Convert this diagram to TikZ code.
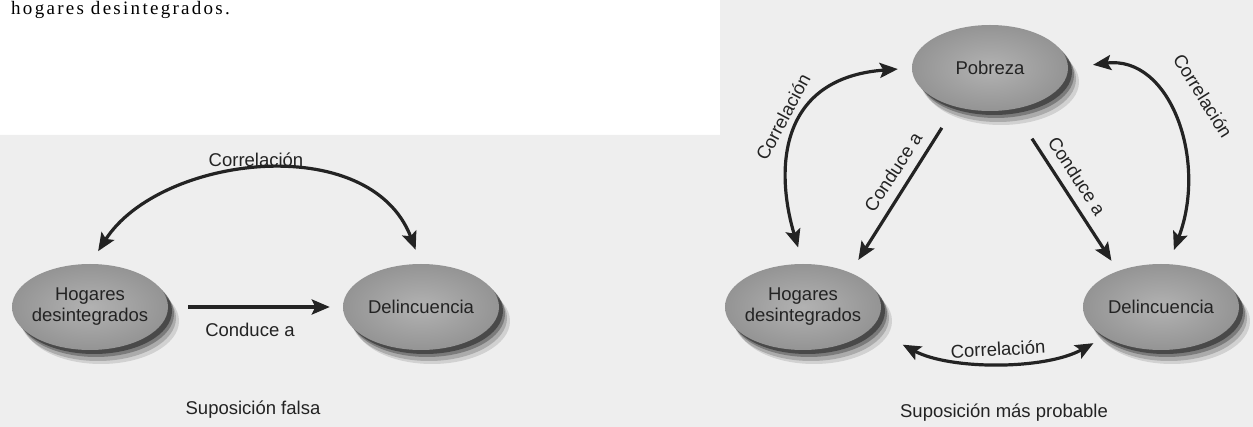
\documentclass[tikz,border=0pt]{standalone}
\usepackage{fontspec}
\setmainfont{Liberation Sans}
\newfontfamily\bodyserif{Liberation Serif}[LetterSpace=12]
\usetikzlibrary{arrows.meta,shapes.geometric,shadows}
\definecolor{ink}{HTML}{232323}
\definecolor{paper}{HTML}{EEEEEE}
\definecolor{discA}{HTML}{B2B2B2}
\definecolor{discB}{HTML}{949494}
\newcommand\zw[1]{\makebox[0pt]{#1}}
\begin{document}
\begin{tikzpicture}[x=1pt,y=-1pt,
  disc/.style={ellipse, minimum width=156pt, minimum height=86pt, inner sep=0pt,
    align=center, inner color=discA, outer color=discB, text=ink,
    font=\fontsize{18.5}{21}\selectfont,
    general shadow={fill=black, opacity=0.12, shadow xshift=11pt, shadow yshift=-14pt},
    general shadow={fill=black, opacity=0.18, shadow xshift=8pt, shadow yshift=-11pt},
    general shadow={fill=black, opacity=0.28, shadow xshift=6pt, shadow yshift=-7pt},
    general shadow={fill=black, opacity=0.40, shadow xshift=4pt, shadow yshift=-4pt}},
  lbl/.style={text=ink, font=\fontsize{18.5}{21}\selectfont, inner sep=0pt},
  link/.style={draw=ink, line width=3.2pt, -{Stealth[length=18pt,width=15pt,inset=3.5pt]}},
  both/.style={draw=ink, line width=3.2pt,
    {Stealth[length=18pt,width=15pt,inset=3.5pt]}-{Stealth[length=18pt,width=15pt,inset=3.5pt]}},
]
\useasboundingbox (0,0) rectangle (1253,427);
% page background under both figures
\fill[paper] (0,135) -- (720,135) -- (720,0) -- (1253,0) -- (1253,427) -- (0,427) -- cycle;

% running text line at the top
\node[anchor=base west, inner sep=0pt, font=\bodyserif\fontsize{19}{22}\selectfont]
  (cap) at (11,15) {hogares desintegrados.};

% ---- left figure: false assumption
\node[disc] (hogL) at (90,307) {\zw{Hogares}\\\zw{desintegrados}};
\node[disc] (delL) at (421,307) {Delincuencia};
\draw[link, shorten <=20pt, shorten >=13pt] (hogL) -- (delL);
\draw[both, shorten <=15pt, shorten >=15pt]
  (hogL.north) .. controls (160,155) and (370,130) .. (delL.north);
\node[lbl] (tCorrL) at (256,160) {Correlación};
\node[lbl] (tCondL) at (250,330) {Conduce a};
\node[lbl] (tSupL) at (253,410) {Suposición falsa};

% ---- right figure: more probable assumption
\node[disc] (pob) at (990,68) {Pobreza};
\node[disc] (hogR) at (803,307) {\zw{Hogares}\\\zw{desintegrados}};
\node[disc] (delR) at (1161,307) {Delincuencia};

\draw[link, shorten <=25pt, shorten >=15pt] (pob.228.5) -- (hogR.36.3);
\draw[link, shorten <=35pt, shorten >=12pt] (pob.299.7) -- (delR.140.3);
\draw[both, shorten <=17pt, shorten >=14pt]
  (hogR.north) .. controls (775,170) and (778,78) .. (pob.west);
\draw[both, shorten <=25pt, shorten >=15pt]
  (pob.east) .. controls (1170,55) and (1208,160) .. (delR.80);
\draw[both, shorten <=35.5pt, shorten >=12.8pt]
  (hogR.-17.7) .. controls (950,370) and (1045,370) .. (delR.208.6);

\node[lbl, rotate=62] (tCorrR1) at (783,117) {Correlación};
\node[lbl, rotate=57] (tCondR1) at (893,172) {Conduce a};
\node[lbl, rotate=-57] (tCondR2) at (1077,176) {Conduce a};
\node[lbl, rotate=-58] (tCorrR2) at (1203,96) {Correlación};
\node[lbl, rotate=3] (tCorrR3) at (998,349) {Correlación};
\node[lbl] (tSupR) at (1004,413) {Suposición más probable};
\end{tikzpicture}
\end{document}
